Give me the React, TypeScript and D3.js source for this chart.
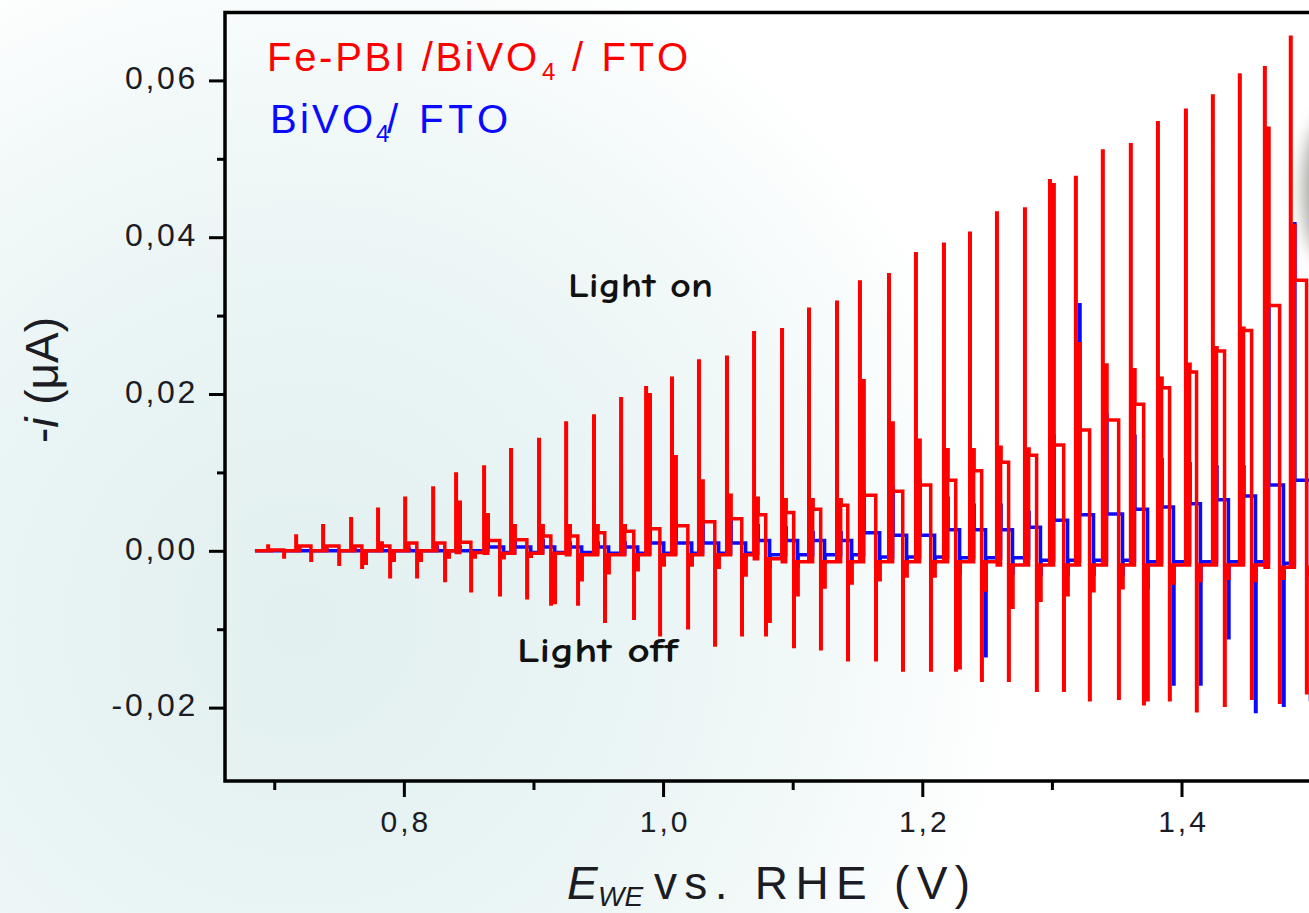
import React, { useEffect, useRef } from 'react';
import * as d3 from 'd3';

// potentials (V vs RHE) where the light is switched on / off, one per chopping cycle
const lightOn = [
  0.6951, 0.7167, 0.7375, 0.7591, 0.7799, 0.8008, 0.8224, 0.8401, 0.8617, 0.8825,
  0.9041, 0.9250, 0.9465, 0.9674, 0.9867, 1.0067, 1.0275, 1.0491, 1.0700, 1.0916,
  1.1124, 1.1340, 1.1517, 1.1741, 1.1949, 1.2165, 1.2366, 1.2574, 1.2790, 1.2983,
  1.3183, 1.3391, 1.3607, 1.3816, 1.4032, 1.4240, 1.4448, 1.4641, 1.4841,
];
const lightOff = [
  0.7074, 0.7283, 0.7499, 0.7676, 0.7892, 0.8100, 0.8316, 0.8517, 0.8740, 0.8949,
  0.9134, 0.9342, 0.9550, 0.9774, 0.9975, 1.0191, 1.0399, 1.0607, 1.0792, 1.1008,
  1.1216, 1.1425, 1.1641, 1.1849, 1.2065, 1.2258, 1.2458, 1.2666, 1.2882, 1.3091,
  1.3291, 1.3515, 1.3708, 1.3908, 1.4116, 1.4332, 1.4541, 1.4757, 1.4965,
];

// Fe-PBI / BiVO4 / FTO  (-i, uA)
const redPeak = [
  0.0006, 0.0019, 0.0032, 0.0041, 0.0053, 0.0067, 0.0080, 0.0098, 0.0107, 0.0129,
  0.0142, 0.0163, 0.0172, 0.0194, 0.0208, 0.0220, 0.0242, 0.0247, 0.0278, 0.0282,
  0.0308, 0.0317, 0.0343, 0.0352, 0.0379, 0.0391, 0.0405, 0.0431, 0.0436, 0.0472,
  0.0476, 0.0510, 0.0518, 0.0546, 0.0562, 0.0580, 0.0607, 0.0616, 0.0655,
];
const redMid = [
  0.0001, 0.0006, 0.0006, 0.0006, 0.0010, 0.0010, 0.0010, 0.0062, 0.0046, 0.0032,
  0.0032, 0.0032, 0.0032, 0.0032, 0.0199, 0.0120, 0.0089, 0.0071, 0.0067, 0.0065,
  0.0065, 0.0065, 0.0217, 0.0163, 0.0141, 0.0129, 0.0129, 0.0132, 0.0130, 0.0467,
  0.0264, 0.0237, 0.0231, 0.0220, 0.0238, 0.0259, 0.0284, 0.0539, 0.0415,
];
const redPlateau = [
  0.0001, 0.0006, 0.0006, 0.0006, 0.0006, 0.0010, 0.0010, 0.0011, 0.0013, 0.0014,
  0.0019, 0.0019, 0.0023, 0.0025, 0.0028, 0.0032, 0.0037, 0.0041, 0.0046, 0.0049,
  0.0053, 0.0058, 0.0071, 0.0076, 0.0084, 0.0090, 0.0102, 0.0113, 0.0122, 0.0135,
  0.0154, 0.0167, 0.0187, 0.0208, 0.0228, 0.0255, 0.0281, 0.0313, 0.0345,
];
const redOffMin = [
  -0.0008, -0.0012, -0.0017, -0.0021, -0.0033, -0.0033, -0.0038, -0.0051, -0.0056, -0.0060,
  -0.0068, -0.0068, -0.0090, -0.0086, -0.0107, -0.0098, -0.0120, -0.0107, -0.0107, -0.0122,
  -0.0125, -0.0139, -0.0139, -0.0152, -0.0152, -0.0152, -0.0165, -0.0165, -0.0178, -0.0178,
  -0.0190, -0.0188, -0.0195, -0.0190, -0.0204, -0.0197, -0.0188, -0.0193, -0.0181,
];
const redOffMid = [
  0.0000, 0.0000, 0.0000, -0.0016, -0.0012, -0.0012, -0.0008, -0.0008, -0.0009, -0.0007,
  -0.0066, -0.0037, -0.0028, -0.0024, -0.0018, -0.0018, -0.0021, -0.0031, -0.0090, -0.0056,
  -0.0046, -0.0041, -0.0037, -0.0032, -0.0032, -0.0149, -0.0050, -0.0072, -0.0063, -0.0056,
  -0.0051, -0.0047, -0.0190, -0.0041, -0.0038, -0.0035, -0.0038, -0.0035, -0.0031,
];
const redDark = [
  0.0000, 0.0000, 0.0000, 0.0000, 0.0000, 0.0000, 0.0000, -0.0002, -0.0003, -0.0003,
  -0.0003, -0.0005, -0.0005, -0.0005, -0.0005, -0.0005, -0.0005, -0.0005, -0.0010, -0.0014,
  -0.0014, -0.0014, -0.0014, -0.0014, -0.0014, -0.0014, -0.0014, -0.0018, -0.0018, -0.0018,
  -0.0018, -0.0018, -0.0018, -0.0018, -0.0018, -0.0018, -0.0018, -0.0021, -0.0021,
];

// BiVO4 / FTO
const bluePeak = [
  0.0000, 0.0000, 0.0001, 0.0001, 0.0002, 0.0002, 0.0005, 0.0005, 0.0013, 0.0013,
  0.0013, 0.0010, 0.0010, 0.0010, 0.0032, 0.0037, 0.0037, 0.0037, 0.0032, 0.0029,
  0.0023, 0.0023, 0.0076, 0.0081, 0.0089, 0.0067, 0.0058, 0.0058, 0.0049, 0.0146,
  0.0314, 0.0173, 0.0146, 0.0116, 0.0111, 0.0107, 0.0107, 0.0314, 0.0417,
];
const bluePlateau = [
  0.0000, 0.0000, 0.0000, 0.0000, 0.0000, 0.0000, 0.0000, 0.0000, 0.0005, 0.0005,
  0.0005, 0.0005, 0.0005, 0.0005, 0.0010, 0.0010, 0.0010, 0.0010, 0.0013, 0.0013,
  0.0013, 0.0013, 0.0023, 0.0020, 0.0020, 0.0027, 0.0027, 0.0027, 0.0030, 0.0039,
  0.0046, 0.0047, 0.0053, 0.0056, 0.0060, 0.0065, 0.0070, 0.0084, 0.0090,
];
const blueOffMin = [
  0.0000, 0.0000, 0.0000, 0.0000, 0.0000, 0.0000, -0.0003, -0.0003, -0.0003, -0.0003,
  -0.0009, -0.0009, -0.0009, -0.0009, -0.0009, -0.0009, -0.0009, -0.0009, -0.0019, -0.0019,
  -0.0016, -0.0016, -0.0016, -0.0016, -0.0016, -0.0028, -0.0134, -0.0028, -0.0030, -0.0030,
  -0.0030, -0.0030, -0.0047, -0.0170, -0.0170, -0.0111, -0.0205, -0.0197, -0.0190,
];
const blueDark = [
  0.0000, 0.0000, 0.0000, 0.0000, 0.0000, 0.0000, 0.0000, 0.0000, -0.0002, -0.0002,
  -0.0002, -0.0002, -0.0003, -0.0003, -0.0003, -0.0003, -0.0003, -0.0003, -0.0005, -0.0005,
  -0.0005, -0.0005, -0.0008, -0.0008, -0.0008, -0.0009, -0.0009, -0.0009, -0.0012, -0.0012,
  -0.0012, -0.0012, -0.0014, -0.0014, -0.0014, -0.0014, -0.0014, -0.0016, -0.0016,
];

const traceStart = 0.6851;
const traceEnd = 1.53;

const xTicks = [0.8, 1.0, 1.2, 1.4];
const xMinorTicks = [0.7, 0.9, 1.1, 1.3, 1.5];
const yTicks = [-0.02, 0.0, 0.02, 0.04, 0.06];
const yMinorTicks = [-0.01, 0.01, 0.03, 0.05];

const App = () => {
  const svgRef = useRef(null);

  useEffect(() => {
    const svg = d3.select(svgRef.current);
    svg.selectAll('*').remove();

    const frame = { left: 225, top: 12.5, right: 1350, bottom: 781 };
    const x = d3.scaleLinear().domain([0.662, 1.53]).range([frame.left, frame.right]);
    const y = d3.scaleLinear().domain([-0.02936, 0.06866]).range([frame.bottom, frame.top]);

    const defs = svg.append('defs');
    const grad = defs.append('radialGradient')
      .attr('id', 'bg')
      .attr('gradientUnits', 'userSpaceOnUse')
      .attr('cx', 300).attr('cy', 620).attr('r', 900);
    grad.append('stop').attr('offset', 0).attr('stop-color', '#e3f0f0');
    grad.append('stop').attr('offset', 0.35).attr('stop-color', '#e9f4f4');
    grad.append('stop').attr('offset', 0.6).attr('stop-color', '#f3f9f9');
    grad.append('stop').attr('offset', 0.8).attr('stop-color', '#ffffff');
    defs.append('filter').attr('id', 'blur')
      .attr('x', '-100%').attr('y', '-100%').attr('width', '300%').attr('height', '300%')
      .append('feGaussianBlur').attr('stdDeviation', 9);

    svg.append('rect').attr('width', 1309).attr('height', 913).attr('fill', 'url(#bg)');
    svg.append('ellipse')
      .attr('cx', 1328).attr('cy', 190).attr('rx', 24).attr('ry', 70)
      .attr('fill', '#7a7a72').attr('opacity', 0.75).attr('filter', 'url(#blur)');

    // step traces
    const s = 0.003;   // one sample
    const d = 0.0004;  // tiny hold, gives narrow spikes
    const blueLag = 0.003;

    const redPts: [number, number][] = [[traceStart, 0]];
    const bluePts: [number, number][] = [[traceStart, 0]];
    lightOn.forEach((t, i) => {
      const u = lightOff[i];
      redPts.push(
        [t, redPeak[i]], [t + d, redDark[i]], [t + s, redMid[i]], [t + s + d, redPlateau[i]],
        [u, redOffMin[i]], [u + d, redDark[i]], [u + s, redOffMid[i]], [u + s + d, redDark[i]]
      );
      bluePts.push(
        [t + blueLag, bluePeak[i]], [t + blueLag + d, bluePlateau[i]],
        [u + blueLag, blueOffMin[i]], [u + blueLag + d, blueDark[i]]
      );
    });
    redPts.push([traceEnd, redDark[redDark.length - 1]]);
    bluePts.push([traceEnd, blueDark[blueDark.length - 1]]);

    const line = d3.line<[number, number]>()
      .x(p => x(p[0]))
      .y(p => y(p[1]))
      .curve(d3.curveStepAfter);

    svg.append('path').datum(bluePts)
      .attr('d', line).attr('fill', 'none')
      .attr('stroke', '#0a0aff').attr('stroke-width', 3.5);
    svg.append('path').datum(redPts)
      .attr('d', line).attr('fill', 'none')
      .attr('stroke', '#ff0000').attr('stroke-width', 3.5);

    // frame
    svg.append('rect')
      .attr('x', frame.left).attr('y', frame.top)
      .attr('width', frame.right - frame.left).attr('height', frame.bottom - frame.top)
      .attr('fill', 'none').attr('stroke', '#000').attr('stroke-width', 3.5);

    const comma = (f: string) => (v: number) => d3.format(f)(v).replace('.', ',').replace('\u2212', '-');

    // x axis
    const gx = svg.append('g').attr('transform', `translate(0,${frame.bottom})`);
    gx.call(d3.axisBottom(x).tickValues(xTicks).tickSize(16).tickPadding(14).tickFormat(comma('.1f')));
    const gxm = svg.append('g').attr('transform', `translate(0,${frame.bottom})`);
    gxm.call(d3.axisBottom(x).tickValues(xMinorTicks).tickSize(9).tickFormat(() => ''));

    // y axis
    const gy = svg.append('g').attr('transform', `translate(${frame.left},0)`);
    gy.call(d3.axisLeft(y).tickValues(yTicks).tickSize(16).tickPadding(11).tickFormat(comma('.2f')));
    const gym = svg.append('g').attr('transform', `translate(${frame.left},0)`);
    gym.call(d3.axisLeft(y).tickValues(yMinorTicks).tickSize(8).tickFormat(() => ''));

    [gx, gxm, gy, gym].forEach(g => {
      g.select('.domain').remove();
      g.selectAll('line').attr('stroke', '#000').attr('stroke-width', 3);
    });
    gx.selectAll('text')
      .attr('font-family', "'Liberation Sans', Arial, sans-serif")
      .attr('font-size', 30).attr('fill', '#1c1c24')
      .attr('letter-spacing', 3).attr('dx', 1.5);
    gy.selectAll('text')
      .attr('font-family', "'Liberation Sans', Arial, sans-serif")
      .attr('font-size', 32).attr('fill', '#1c1c24')
      .attr('letter-spacing', 2.7).attr('dy', '0.26em');

    const sans = "'Liberation Sans', Arial, sans-serif";

    // legend
    svg.append('text').attr('x', 267).attr('y', 71)
      .attr('font-family', sans).attr('font-size', 40).attr('fill', '#ff0000')
      .attr('textLength', 270).attr('lengthAdjust', 'spacing')
      .text('Fe-PBI /BiVO');
    svg.append('text').attr('x', 542).attr('y', 80)
      .attr('font-family', sans).attr('font-size', 24).attr('fill', '#ff0000').text('4');
    svg.append('text').attr('x', 572).attr('y', 71)
      .attr('font-family', sans).attr('font-size', 40).attr('fill', '#ff0000')
      .attr('textLength', 116).attr('lengthAdjust', 'spacing')
      .text('/ FTO');

    svg.append('text').attr('x', 270).attr('y', 133)
      .attr('font-family', sans).attr('font-size', 40).attr('fill', '#0a0aff')
      .attr('textLength', 103).attr('lengthAdjust', 'spacing')
      .text('BiVO');
    svg.append('text').attr('x', 376).attr('y', 142)
      .attr('font-family', sans).attr('font-size', 24).attr('fill', '#0a0aff').text('4');
    svg.append('text').attr('x', 387).attr('y', 133)
      .attr('font-family', sans).attr('font-size', 40).attr('fill', '#0a0aff')
      .attr('textLength', 121).attr('lengthAdjust', 'spacing')
      .text('/ FTO');

    // annotations
    const comic = "'Comic Sans MS', 'Comic Neue', 'DejaVu Sans', sans-serif";
    svg.append('text').attr('x', 568).attr('y', 297)
      .attr('font-family', comic).attr('font-weight', 'bold').attr('font-size', 34)
      .attr('fill', '#111').attr('textLength', 145).attr('lengthAdjust', 'spacingAndGlyphs')
      .text('Light on');
    svg.append('text').attr('x', 517).attr('y', 662)
      .attr('font-family', comic).attr('font-weight', 'bold').attr('font-size', 34)
      .attr('fill', '#111').attr('textLength', 161).attr('lengthAdjust', 'spacingAndGlyphs')
      .text('Light off');

    // axis titles
    const yl = svg.append('text')
      .attr('transform', 'translate(58,380) rotate(-90)')
      .attr('text-anchor', 'middle')
      .attr('font-family', sans).attr('font-size', 46).attr('fill', '#1c1c24');
    yl.append('tspan').text('-');
    yl.append('tspan').attr('font-style', 'italic').text('i');
    yl.append('tspan').text(' (\u03bcA)');

    svg.append('text').attr('x', 567).attr('y', 899)
      .attr('font-family', sans).attr('font-size', 46).attr('font-style', 'italic')
      .attr('fill', '#1c1c24').text('E');
    svg.append('text').attr('x', 598).attr('y', 906)
      .attr('font-family', sans).attr('font-size', 28).attr('font-style', 'italic')
      .attr('fill', '#1c1c24').text('WE');
    svg.append('text').attr('x', 654).attr('y', 899)
      .attr('font-family', sans).attr('font-size', 46).attr('fill', '#1c1c24')
      .attr('textLength', 316).attr('lengthAdjust', 'spacing')
      .text('vs. RHE (V)');
  }, []);

  return (
    <svg
      ref={svgRef}
      width={1309}
      height={913}
      style={{ position: 'absolute', left: 0, top: 0, display: 'block' }}
    />
  );
};

export default App;
